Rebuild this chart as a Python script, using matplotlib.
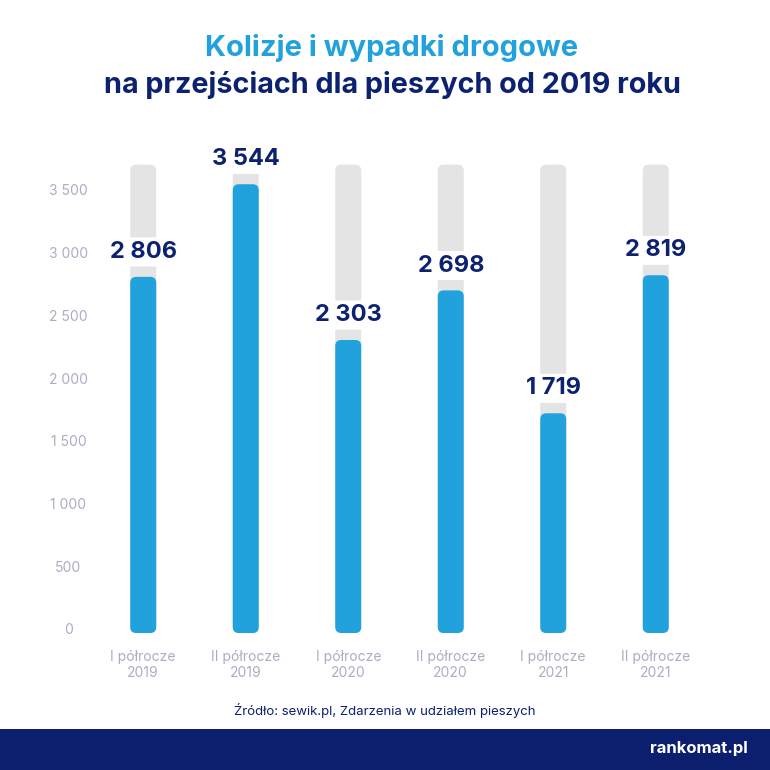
import matplotlib.pyplot as plt
from matplotlib.patches import FancyBboxPatch, Rectangle

okresy = ['I półrocze\n2019', 'II półrocze\n2019', 'I półrocze\n2020',
          'II półrocze\n2020', 'I półrocze\n2021', 'II półrocze\n2021']
zdarzenia = [2806, 3544, 2303, 2698, 1719, 2819]
etykiety = ['2 806', '3 544', '2 303', '2 698', '1 719', '2 819']
tlo_max = 3700
yticks = [0, 500, 1000, 1500, 2000, 2500, 3000, 3500]
ytick_labels = ['0', '500', '1 000', '1 500', '2 000', '2 500', '3 000', '3 500']

niebieski = '#22a2dc'
granat = '#0c2170'
szary = '#e4e4e4'
szary_txt = '#abadc4'

plt.rcParams['font.family'] = ['Inter', 'DejaVu Sans']

fig = plt.figure(figsize=(7.7, 7.7), dpi=100)
ax = fig.add_axes([92 / 770, 141 / 770, 615 / 770, 502 / 770])
ax.set_xlim(-0.5, 5.5)
ax.set_ylim(0, 4000)

# proporcje do zaokrąglenia rogów
px_x = 6 / 615
px_y = 4000 / 502
aspect = px_y / px_x
szer = 26 * px_x
r = 6 * px_x
dol = -4 * px_y

for i, v in enumerate(zdarzenia):
    ax.add_patch(FancyBboxPatch((i - szer / 2, dol), szer, tlo_max - dol,
                                boxstyle=f'round,pad=0,rounding_size={r}',
                                mutation_aspect=aspect, fc=szary, ec='none', clip_on=False))
    ax.add_patch(FancyBboxPatch((i - szer / 2, dol), szer, v - dol,
                                boxstyle=f'round,pad=0,rounding_size={r}',
                                mutation_aspect=aspect, fc=niebieski, ec='none', clip_on=False))
    ax.annotate(etykiety[i], (i, v), xytext=(0, 10), textcoords='offset points',
                ha='center', va='bottom', fontsize=17, fontweight='bold', color=granat,
                bbox=dict(boxstyle='round,pad=0.15', fc='white', ec='none'))

ax.set_yticks(yticks)
ax.set_yticklabels(ytick_labels, ha='center')
ax.set_xticks(range(len(okresy)))
ax.set_xticklabels(okresy)
ax.tick_params(axis='y', length=0, pad=17, labelcolor=szary_txt, labelsize=10)
ax.tick_params(axis='x', length=0, pad=15, labelcolor=szary_txt, labelsize=10)
for s in ax.spines.values():
    s.set_visible(False)

fig.text(392 / 770, 1 - 48 / 770, 'Kolizje i wypadki drogowe', ha='center', va='center',
         fontsize=21, fontweight='bold', color=niebieski)
fig.text(392 / 770, 1 - 85 / 770, 'na przejściach dla pieszych od 2019 roku', ha='center',
         va='center', fontsize=20.7, fontweight='bold', color=granat)
fig.text(0.5, 1 - 710 / 770, 'Źródło: sewik.pl, Zdarzenia w udziałem pieszych',
         ha='center', va='center', fontsize=9.5, color=granat)

fig.patches.append(Rectangle((0, 0), 1, 41 / 770, transform=fig.transFigure,
                             fc='#0b1f6e', ec='none'))
fig.text(748 / 770, 22 / 770, 'rankomat.pl', ha='right', va='center',
         fontsize=12, fontweight='bold', color='white')

fig.savefig('out.png', dpi=100, facecolor='white')
